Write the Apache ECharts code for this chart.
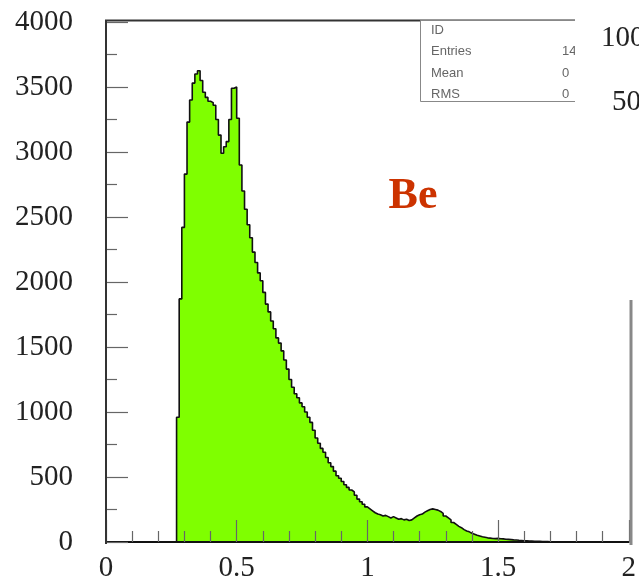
<!DOCTYPE html>
<html>
<head>
<meta charset="utf-8">
<script src="https://cdn.jsdelivr.net/npm/echarts@6/dist/echarts.min.js"></script>
<style>
  html, body { margin: 0; padding: 0; background: #fff; }
  #chart { width: 639px; height: 583px; }
</style>
</head>
<body>
<div id="chart"></div>
<script>
// Histogram binning: left edge of first filled bin and bin width
const binStart = 0.27;
const binWidth = 0.01;

// Counts per bin, starting at binStart
const counts = [
  960, 1870, 2420, 2830, 3230, 3400, 3530, 3600, 3625, 3550,
  3460, 3420, 3390, 3380, 3360, 3250, 3130, 2990, 3040, 3080,
  3250, 3490, 3500, 3260, 2900, 2700, 2560, 2440, 2340, 2230,
  2150, 2070, 2010, 1920, 1830, 1770, 1700, 1640, 1570, 1530,
  1470, 1400, 1330, 1250, 1190, 1140, 1110, 1070, 1040, 1000,
  960, 920, 860, 800, 760, 720, 690, 650, 610, 580,
  545, 510, 490, 465, 440, 420, 400, 385, 360, 330,
  310, 290, 270, 255, 240, 225, 215, 210, 200, 205,
  195, 185, 195, 185, 175, 180, 170, 175, 165, 170,
  185, 200, 210, 215, 230, 240, 250, 255, 250, 245,
  235, 220, 200, 185, 170, 150, 135, 120, 110, 95,
  85, 78, 68, 60, 52, 46, 40, 36, 32, 30,
  27, 26, 28, 25, 24, 21, 20, 18, 16, 15,
  13, 12, 10, 10, 8, 7, 6, 5, 5, 4,
  3, 3, 2, 2, 2, 1, 1, 1, 1, 1,
  1, 0, 1, 0, 0, 1, 0, 0, 0, 1, 0, 0, 0, 0, 1, 0, 0, 0, 0, 0, 0, 0, 0
];

// Axis ranges and tick labels
const xRange = [0, 2];
const yRange = [0, 4000];
const xTickLabels = ['0', '0.5', '1', '1.5', '2'];
const yTickLabels = ['0', '500', '1000', '1500', '2000', '2500', '3000', '3500', '4000'];

// Statistics box entries
const statNames = ['ID', 'Entries', 'Mean', 'RMS'];
const statValues = ['', '14', '0', '0'];

const histLabel = 'Be';

// Step outline points: [left edge, count]
const points = [[xRange[0], 0]];
counts.forEach((c, i) => {
  points.push([Math.round((binStart + i * binWidth) * 100) / 100, c]);
});
points.push([xRange[1], counts[counts.length - 1]]);

const serif = '"Liberation Serif", "Times New Roman", serif';

const chart = echarts.init(document.getElementById('chart'), null, { renderer: 'canvas' });

const G = { left: 106, top: 22, right: 8, bottom: 39.5 };

const graphics = [];
// frame: left side and top (top runs until the neighbouring panel)
graphics.push({
  type: 'polyline', z: 50,
  shape: { points: [[106, 544], [106, 20.5], [575, 20.5]] },
  style: { stroke: '#333', lineWidth: 2, fill: null }
});
// right frame segment
graphics.push({
  type: 'line', z: 50,
  shape: { x1: 631, y1: 300, x2: 631, y2: 545 },
  style: { stroke: '#888', lineWidth: 3 }
});
// statistics box
graphics.push({
  type: 'rect', z: 50,
  shape: { x: 420.5, y: 20.5, width: 170, height: 81 },
  style: { stroke: '#888', lineWidth: 1, fill: '#fff' }
});
statNames.forEach((n, i) => {
  graphics.push({
    type: 'text', z: 51, x: 431, y: 30 + i * 21.5,
    style: { text: n, font: '13px "Liberation Sans", sans-serif', fill: '#666', verticalAlign: 'middle' }
  });
  if (statValues[i]) {
    graphics.push({
      type: 'text', z: 51, x: 562, y: 30 + i * 21.5,
      style: { text: statValues[i], font: '13px "Liberation Sans", sans-serif', fill: '#666', verticalAlign: 'middle' }
    });
  }
});
// neighbouring panel area
graphics.push({
  type: 'rect', z: 60,
  shape: { x: 575, y: 0, width: 70, height: 120 },
  style: { fill: '#fff' }
});
graphics.push({
  type: 'text', z: 61, x: 601, y: 38,
  style: { text: '1000', font: '29px ' + serif, fill: '#222', verticalAlign: 'middle' }
});
graphics.push({
  type: 'text', z: 61, x: 612, y: 102,
  style: { text: '500', font: '29px ' + serif, fill: '#222', verticalAlign: 'middle' }
});
// element label
graphics.push({
  type: 'text', z: 55, x: 413, y: 197,
  style: { text: histLabel, font: 'bold 44px ' + serif, fill: '#cc3300', align: 'center', verticalAlign: 'middle' }
});

chart.setOption({
  animation: false,
  backgroundColor: '#fff',
  grid: G,
  xAxis: {
    type: 'value', min: xRange[0], max: xRange[1], interval: 0.5, z: 10,
    axisLine: { show: true, onZero: false, lineStyle: { color: '#111', width: 2 } },
    axisTick: { show: true, inside: true, length: 22, lineStyle: { color: '#666', width: 1.2 } },
    minorTick: { show: true, splitNumber: 5, length: 11, lineStyle: { color: '#666', width: 1.2 } },
    splitLine: { show: false },
    axisLabel: {
      margin: 12, color: '#222', fontFamily: serif, fontSize: 29,
      showMinLabel: true, showMaxLabel: true,
      formatter: (v) => xTickLabels[Math.round(v / 0.5)]
    }
  },
  yAxis: {
    type: 'value', min: yRange[0], max: yRange[1], interval: 500, z: 10,
    axisLine: { show: false },
    axisTick: { show: true, inside: true, length: 22, lineStyle: { color: '#666', width: 1.2 } },
    minorTick: { show: true, splitNumber: 2, length: 11, lineStyle: { color: '#666', width: 1.2 } },
    splitLine: { show: false },
    axisLabel: {
      margin: 33, color: '#222', fontFamily: serif, fontSize: 29,
      formatter: (v) => yTickLabels[Math.round(v / 500)]
    }
  },
  series: [{
    type: 'line',
    step: 'end',
    data: points,
    symbol: 'none',
    lineStyle: { color: '#111', width: 1.6 },
    areaStyle: { color: '#7fff00', opacity: 1 },
    z: 2
  }],
  graphic: graphics
});
</script>
</body>
</html>
